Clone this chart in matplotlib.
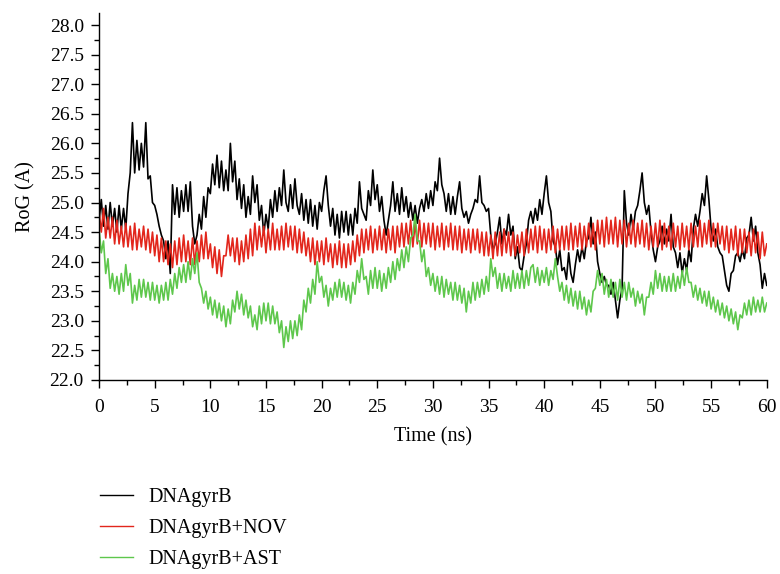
import numpy as np
import matplotlib
matplotlib.use("Agg")
import matplotlib.pyplot as plt
from matplotlib.ticker import MultipleLocator, FormatStrFormatter

plt.rcParams['font.family'] = ['Liberation Serif', 'DejaVu Serif']

time_ns = [round(i * 0.2, 1) for i in range(301)]

rog_apo = [
    24.7, 25.05, 24.6, 24.95, 24.55, 25.0, 24.6, 24.9, 24.5, 24.95,
    24.55, 24.9, 24.55, 25.15, 25.5, 26.35, 25.5, 26.05, 25.55, 26.0,
    25.6, 26.35, 25.4, 25.45, 25.0, 24.95, 24.8, 24.6, 24.45, 24.35,
    24.05, 24.35, 23.8, 25.3, 24.8, 25.25, 24.75, 25.2, 24.85, 25.3,
    24.85, 25.35, 24.6, 24.3, 24.45, 24.8, 24.55, 25.1, 24.75, 25.25,
    25.15, 25.65, 25.3, 25.8, 25.25, 25.7, 25.2, 25.55, 25.2, 26.0,
    25.35, 25.7, 25.05, 25.4, 24.9, 25.3, 24.75, 25.1, 24.8, 25.45,
    25.0, 25.3, 24.7, 24.95, 24.45, 24.8, 24.55, 25.05, 24.75, 25.2,
    24.85, 25.25, 24.95, 25.55, 25.0, 24.85, 25.3, 24.9, 25.4, 24.95,
    24.8, 25.15, 24.7, 25.05, 24.65, 25.05, 24.6, 24.95, 24.55, 25.0,
    24.85, 25.2, 25.45, 24.95, 24.6, 24.9, 24.45, 24.8, 24.4, 24.85,
    24.5, 24.85, 24.45, 24.8, 24.45, 24.9, 24.65, 25.35, 24.9, 24.8,
    24.7, 25.2, 24.95, 25.55, 25.05, 25.3, 24.85, 25.1, 24.7, 24.45,
    24.7, 24.95, 25.35, 24.85, 25.15, 24.8, 25.25, 24.85, 25.1, 24.75,
    25.0, 24.7, 24.95, 24.65, 24.9, 25.05, 24.85, 25.15, 24.9, 25.2,
    24.95, 25.35, 25.2, 25.75, 25.3, 25.15, 24.85, 25.15, 24.8, 25.1,
    24.8, 25.1, 25.35, 24.9, 24.75, 24.85, 24.65, 24.8, 24.9, 25.05,
    25.0, 25.45, 25.0, 24.95, 24.85, 24.9, 24.45, 24.2, 24.3, 24.5,
    24.75, 24.3, 24.55, 24.45, 24.8, 24.45, 24.6, 24.05, 24.25, 23.9,
    23.85, 24.1, 24.3, 24.7, 24.85, 24.65, 24.9, 24.7, 25.05, 24.8,
    25.15, 25.45, 25.0, 24.85, 24.35, 24.25, 23.95, 24.2, 23.85, 23.9,
    23.7, 24.15, 23.8, 23.65, 23.95, 24.2, 24.0, 24.25, 24.05, 24.35,
    24.4, 24.75, 24.3, 24.5, 24.0, 23.8, 23.65, 23.75, 23.6, 23.6,
    23.45, 23.65, 23.35, 23.05, 23.35, 23.55, 25.2, 24.65, 24.45, 24.8,
    24.55, 24.85, 24.95, 25.2, 25.5, 25.0, 24.8, 24.95, 24.5, 24.2,
    24.0, 24.25, 24.35, 24.6, 24.3, 24.55, 24.35, 24.8, 24.25, 24.15,
    23.9, 24.15, 23.8, 24.05, 23.85, 24.2, 24.0, 24.55, 24.8, 24.6,
    24.85, 25.15, 24.95, 25.45, 25.05, 24.55, 24.35, 24.55, 24.25, 24.15,
    24.1, 23.85, 23.6, 23.5, 23.8, 23.85, 24.1, 24.15, 24.0, 24.2,
    24.05, 24.4, 24.45, 24.75, 24.35, 24.6, 24.15, 23.95, 23.55, 23.8,
    23.6,
]

rog_nov = [
    24.85, 24.5, 24.9, 24.4, 24.75, 24.4, 24.75, 24.3, 24.7, 24.3,
    24.6, 24.25, 24.65, 24.25, 24.6, 24.2, 24.65, 24.2, 24.55, 24.25,
    24.6, 24.2, 24.55, 24.15, 24.5, 24.1, 24.45, 24.0, 24.4, 24.0,
    24.35, 23.95, 24.3, 23.9, 24.35, 23.95, 24.4, 24.0, 24.45, 24.0,
    24.35, 23.95, 24.4, 23.95, 24.35, 24.0, 24.45, 24.05, 24.5, 24.05,
    24.3, 23.9, 24.25, 23.8, 24.2, 23.75, 24.1, 24.1, 24.45, 24.1,
    24.4, 24.0, 24.4, 23.95, 24.35, 24.0, 24.45, 24.05, 24.55, 24.1,
    24.65, 24.2, 24.6, 24.25, 24.6, 24.15, 24.55, 24.2, 24.65, 24.2,
    24.55, 24.2, 24.6, 24.2, 24.65, 24.25, 24.6, 24.2, 24.6, 24.15,
    24.55, 24.15, 24.5, 24.1, 24.4, 24.0, 24.4, 23.95, 24.35, 24.0,
    24.35, 23.95, 24.4, 24.0, 24.3, 23.9, 24.3, 23.95, 24.35, 23.9,
    24.3, 23.9, 24.3, 23.95, 24.35, 24.0, 24.45, 24.1, 24.55, 24.15,
    24.55, 24.2, 24.6, 24.15, 24.55, 24.2, 24.6, 24.2, 24.55, 24.15,
    24.55, 24.2, 24.6, 24.15, 24.6, 24.25, 24.65, 24.25, 24.65, 24.3,
    24.7, 24.25, 24.65, 24.3, 24.7, 24.25, 24.65, 24.3, 24.65, 24.25,
    24.65, 24.2, 24.6, 24.25, 24.65, 24.2, 24.6, 24.25, 24.65, 24.2,
    24.6, 24.2, 24.6, 24.15, 24.55, 24.2, 24.55, 24.15, 24.55, 24.2,
    24.55, 24.15, 24.5, 24.1, 24.5, 24.1, 24.45, 24.05, 24.5, 24.1,
    24.5, 24.1, 24.55, 24.15, 24.5, 24.1, 24.5, 24.1, 24.45, 24.15,
    24.5, 24.1, 24.55, 24.15, 24.55, 24.2, 24.6, 24.15, 24.6, 24.2,
    24.55, 24.15, 24.55, 24.2, 24.6, 24.15, 24.55, 24.2, 24.6, 24.2,
    24.6, 24.2, 24.65, 24.2, 24.6, 24.25, 24.65, 24.2, 24.6, 24.25,
    24.65, 24.25, 24.65, 24.2, 24.7, 24.3, 24.7, 24.25, 24.75, 24.3,
    24.7, 24.3, 24.75, 24.25, 24.7, 24.3, 24.7, 24.25, 24.65, 24.3,
    24.7, 24.25, 24.65, 24.3, 24.7, 24.25, 24.65, 24.2, 24.6, 24.25,
    24.65, 24.25, 24.7, 24.2, 24.65, 24.25, 24.6, 24.2, 24.65, 24.25,
    24.6, 24.2, 24.65, 24.25, 24.6, 24.2, 24.65, 24.25, 24.6, 24.25,
    24.7, 24.25, 24.65, 24.3, 24.7, 24.25, 24.65, 24.25, 24.65, 24.3,
    24.6, 24.2, 24.6, 24.15, 24.55, 24.2, 24.6, 24.1, 24.55, 24.15,
    24.55, 24.15, 24.5, 24.1, 24.55, 24.15, 24.5, 24.05, 24.5, 24.1,
    24.3,
]

rog_ast = [
    24.55, 24.15, 24.35, 23.8, 24.05, 23.55, 23.8, 23.5, 23.75, 23.45,
    23.8, 23.5, 23.95, 23.6, 23.8, 23.3, 23.6, 23.35, 23.7, 23.4,
    23.7, 23.4, 23.65, 23.35, 23.65, 23.35, 23.6, 23.3, 23.6, 23.35,
    23.65, 23.35, 23.7, 23.45, 23.8, 23.55, 23.9, 23.65, 23.95, 23.65,
    24.0, 23.7, 24.05, 23.8, 24.15, 23.65, 23.55, 23.3, 23.5, 23.2,
    23.4, 23.1, 23.35, 23.05, 23.3, 23.0, 23.25, 22.9, 23.2, 22.95,
    23.35, 23.15, 23.5, 23.2, 23.45, 23.1, 23.35, 23.05, 23.25, 22.9,
    23.1, 22.85, 23.25, 22.95, 23.3, 23.0, 23.3, 22.95, 23.25, 22.95,
    23.15, 22.8, 23.0, 22.55, 22.9, 22.65, 23.0, 22.7, 23.0, 22.75,
    23.1, 22.85, 23.35, 23.15, 23.55, 23.3, 23.7, 23.45, 24.0, 23.65,
    23.75, 23.4, 23.6, 23.25, 23.55, 23.35, 23.65, 23.4, 23.7, 23.4,
    23.65, 23.35, 23.6, 23.3, 23.65, 23.45, 23.85, 23.65, 24.05, 23.7,
    23.75, 23.45, 23.85, 23.55, 23.9, 23.55, 23.85, 23.5, 23.8, 23.55,
    23.9, 23.65, 24.0, 23.7, 24.05, 23.85, 24.2, 23.9, 24.25, 24.0,
    24.4, 24.45, 24.8, 24.35, 24.35, 24.0, 24.2, 23.75, 23.9, 23.6,
    23.8, 23.5, 23.75, 23.45, 23.75, 23.4, 23.7, 23.45, 23.65, 23.35,
    23.65, 23.35, 23.6, 23.3, 23.55, 23.15, 23.5, 23.3, 23.65, 23.35,
    23.65, 23.4, 23.7, 23.45, 23.75, 23.5, 24.05, 23.75, 23.9, 23.55,
    23.8, 23.5, 23.8, 23.55, 23.75, 23.5, 23.85, 23.55, 23.8, 23.55,
    23.85, 23.55, 23.85, 23.6, 23.9, 23.95, 23.65, 23.9, 23.6, 23.85,
    23.65, 23.9, 23.6, 23.85, 23.7, 24.05, 23.75, 23.5, 23.65, 23.35,
    23.6, 23.3, 23.55, 23.25, 23.5, 23.2, 23.5, 23.2, 23.4, 23.1,
    23.35, 23.15, 23.5, 23.55, 23.85, 23.6, 23.8, 23.45, 23.7, 23.4,
    23.7, 23.4, 23.65, 23.35, 23.7, 23.4, 23.65, 23.35, 23.65, 23.4,
    23.55, 23.25, 23.5, 23.3, 23.45, 23.1, 23.4, 23.4, 23.65, 23.45,
    23.85, 23.55, 23.8, 23.5, 23.75, 23.5, 23.75, 23.5, 23.8, 23.5,
    23.75, 23.55, 23.85, 23.6, 23.9, 23.65, 23.65, 23.4, 23.6, 23.35,
    23.55, 23.3, 23.5, 23.25, 23.5, 23.2, 23.4, 23.15, 23.35, 23.1,
    23.3, 23.05, 23.25, 23.0, 23.2, 22.95, 23.15, 22.85, 23.1, 23.05,
    23.3, 23.1, 23.35, 23.1, 23.4, 23.15, 23.35, 23.15, 23.4, 23.15,
    23.3,
]

series_labels = ["DNAgyrB", "DNAgyrB+NOV", "DNAgyrB+AST"]
series_colors = ["#000000", "#e2261c", "#5ec74c"]

fig = plt.figure(figsize=(7.8, 5.74), dpi=100)
ax = fig.add_axes([0.127, 0.338, 0.856, 0.639])

handles = []
for vals, lab, col in zip([rog_apo, rog_nov, rog_ast], series_labels, series_colors):
    h, = ax.plot(time_ns, vals, color=col, lw=1.2, label=lab)
    handles.append(h)

ax.set_xlim(0, 60)
ax.set_ylim(22, 28.2)
ax.xaxis.set_major_locator(MultipleLocator(5))
ax.xaxis.set_minor_locator(MultipleLocator(2.5))
ax.set_yticks([22 + 0.5 * i for i in range(13)])
ax.yaxis.set_minor_locator(MultipleLocator(0.25))
ax.yaxis.set_major_formatter(FormatStrFormatter('%.1f'))

for s in ['top', 'right']:
    ax.spines[s].set_visible(False)
for s in ['left', 'bottom']:
    ax.spines[s].set_linewidth(1.0)

ax.tick_params(which='major', direction='out', length=6, width=1, labelsize=14, pad=5)
ax.tick_params(axis='x', which='major', pad=8)
ax.tick_params(which='minor', direction='out', length=3.5, width=1)

ax.set_xlabel("Time (ns)", fontsize=14.5, labelpad=8)
ax.set_ylabel("RoG (A)", fontsize=14.5, labelpad=10)

leg = fig.legend(handles=handles, labels=series_labels, loc='upper left',
                 bbox_to_anchor=(0.105, 0.182), frameon=False, fontsize=14.5,
                 handlelength=1.65, handletextpad=0.75, labelspacing=0.6)
for lh in leg.get_lines():
    lh.set_linewidth(1.0)

fig.savefig("out.png", dpi=100)
